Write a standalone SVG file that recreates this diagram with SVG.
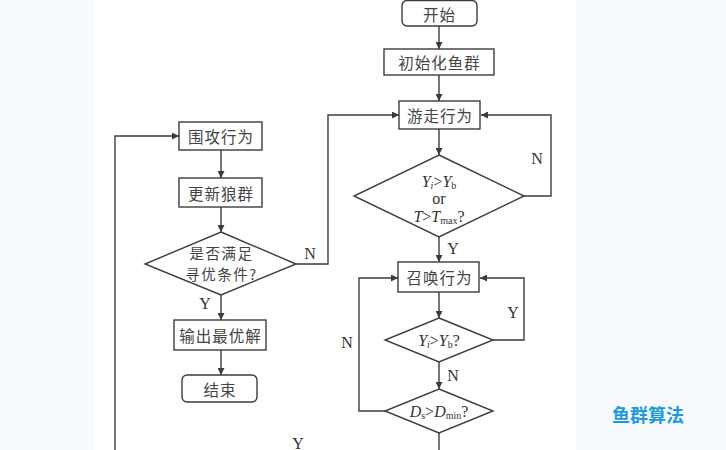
<svg xmlns="http://www.w3.org/2000/svg" width="726" height="450" viewBox="0 0 726 450">
<style>
.bg{fill:#f7fbff}
.box{fill:#fff;stroke:#3c3c3c;stroke-width:1.4}
.ln{fill:none;stroke:#3c3c3c;stroke-width:1.4}
.cn{font-family:"Noto Sans CJK SC",sans-serif;font-size:15.5px;fill:#444;text-anchor:middle;dominant-baseline:central;letter-spacing:1px}
.cs{font-size:14.5px;letter-spacing:1.5px}
.lt{font-family:"Liberation Serif",serif;font-size:16px;fill:#333;text-anchor:middle;dominant-baseline:central}
.it{font-style:italic}
.sub{font-size:10px}
.wm{font-family:"Noto Sans CJK SC",sans-serif;font-size:18px;font-weight:bold;fill:#1e9ad6;text-anchor:middle;dominant-baseline:central}
</style>
<defs>
<marker id="ah" viewBox="0 0 10 10" refX="10" refY="5" markerWidth="8" markerHeight="7" markerUnits="userSpaceOnUse" orient="auto">
<path d="M0,0 L10,5 L0,10 z" fill="#3c3c3c"/>
</marker>
</defs>
<rect class="bg" x="0" y="0" width="726" height="450"/>
<rect x="94" y="0" width="482" height="450" fill="#fff"/>

<g id="connectors">
<line class="ln" x1="439" y1="26" x2="439" y2="49" marker-end="url(#ah)"/>
<line class="ln" x1="439" y1="75" x2="439" y2="101" marker-end="url(#ah)"/>
<line class="ln" x1="439" y1="129" x2="439" y2="155" marker-end="url(#ah)"/>
<polyline class="ln" points="524,196 551,196 551,115 481,115" marker-end="url(#ah)"/>
<line class="ln" x1="439" y1="237" x2="439" y2="262" marker-end="url(#ah)"/>
<line class="ln" x1="439" y1="292" x2="439" y2="318" marker-end="url(#ah)"/>
<polyline class="ln" points="493,340 524,340 524,278 480,278" marker-end="url(#ah)"/>
<line class="ln" x1="439" y1="362" x2="439" y2="389" marker-end="url(#ah)"/>
<polyline class="ln" points="385,411 359,411 359,278 398,278" marker-end="url(#ah)"/>
<line class="ln" x1="439" y1="433" x2="439" y2="452"/>
<polyline class="ln" points="115,452 115,136 179,136" marker-end="url(#ah)"/>
<line class="ln" x1="221" y1="150" x2="221" y2="178" marker-end="url(#ah)"/>
<line class="ln" x1="221" y1="207" x2="221" y2="232" marker-end="url(#ah)"/>
<polyline class="ln" points="296,264 328,264 328,115 399,115" marker-end="url(#ah)"/>
<line class="ln" x1="221" y1="295" x2="221" y2="320" marker-end="url(#ah)"/>
<line class="ln" x1="221" y1="350" x2="221" y2="375" marker-end="url(#ah)"/>
<text class="lt" x="537" y="158">N</text>
<text class="lt" x="453" y="248">Y</text>
<text class="lt" x="513" y="312">Y</text>
<text class="lt" x="453" y="375">N</text>
<text class="lt" x="347" y="342">N</text>
<text class="lt" x="310" y="253">N</text>
<text class="lt" x="205" y="303">Y</text>
<text class="lt" x="298" y="443">Y</text>
</g>

<g id="start">
<rect class="box" x="402" y="0.5" width="75" height="25.5" rx="5"/>
<text class="cn" x="439.5" y="13.5">开始</text>
</g>
<g id="init">
<rect class="box" x="384" y="49" width="110" height="26"/>
<text class="cn" x="439.5" y="62">初始化鱼群</text>
</g>
<g id="swim">
<rect class="box" x="399" y="101" width="81" height="28"/>
<text class="cn" x="440" y="115">游走行为</text>
</g>
<g id="cond1">
<polygon class="box" points="439,155 524,196 439,237 354,196"/>
<text class="lt" x="439" y="181"><tspan class="it">Y</tspan><tspan class="it sub" dy="4">i</tspan><tspan dy="-4">&gt;</tspan><tspan class="it">Y</tspan><tspan class="sub" dy="4">b</tspan></text>
<text class="lt" x="439" y="198">or</text>
<text class="lt" x="439" y="216"><tspan class="it">T</tspan>&gt;<tspan class="it">T</tspan><tspan class="sub" dy="4">max</tspan><tspan dy="-4">?</tspan></text>
</g>
<g id="summon">
<rect class="box" x="398" y="262" width="81" height="30"/>
<text class="cn" x="439.5" y="277">召唤行为</text>
</g>
<g id="cond2">
<polygon class="box" points="439,318 493,340 439,362 385,340"/>
<text class="lt" x="439" y="340"><tspan class="it">Y</tspan><tspan class="it sub" dy="4">i</tspan><tspan dy="-4">&gt;</tspan><tspan class="it">Y</tspan><tspan class="sub" dy="4">b</tspan><tspan dy="-4">?</tspan></text>
</g>
<g id="cond3">
<polygon class="box" points="439,389 493,411 439,433 385,411"/>
<text class="lt" x="439" y="411"><tspan class="it">D</tspan><tspan class="sub" dy="4">s</tspan><tspan dy="-4">&gt;</tspan><tspan class="it">D</tspan><tspan class="sub" dy="4">min</tspan><tspan dy="-4">?</tspan></text>
</g>
<g id="attack">
<rect class="box" x="179" y="122" width="83" height="28"/>
<text class="cn" x="221" y="136">围攻行为</text>
</g>
<g id="update">
<rect class="box" x="179" y="178" width="83" height="29"/>
<text class="cn" x="221" y="192.5">更新狼群</text>
</g>
<g id="cond4">
<polygon class="box" points="221,232 296,264 221,295 145,264"/>
<text class="cn cs" x="221.5" y="252.5">是否满足</text>
<text class="cn cs" x="221.5" y="273">寻优条件?</text>
</g>
<g id="output">
<rect class="box" x="174" y="320" width="92" height="30"/>
<text class="cn" x="220.5" y="335">输出最优解</text>
</g>
<g id="end">
<rect class="box" x="182" y="375" width="75" height="27" rx="5"/>
<text class="cn" x="220" y="388.5">结束</text>
</g>
<text class="wm" x="648" y="414">鱼群算法</text>
</svg>
